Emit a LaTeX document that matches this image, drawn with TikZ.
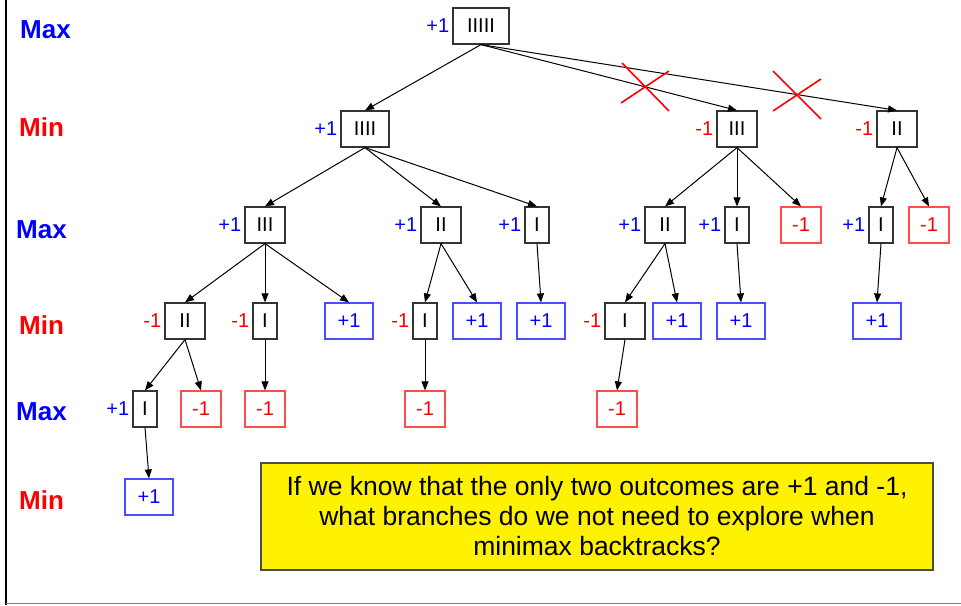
\documentclass[tikz,border=0pt]{standalone}
\usepackage{fontspec}
\setmainfont{Liberation Sans}
\usetikzlibrary{arrows.meta}
\begin{document}
\begin{tikzpicture}[x=1pt,y=-1pt,
   tbox/.style={draw=black!80,line width=1.2pt,minimum height=36pt,inner sep=0pt,font=\fontsize{20}{20}\selectfont},
   pbox/.style={tbox,draw=blue!70,text=blue,minimum width=48pt},
   mbox/.style={tbox,draw=red!70,text=red,minimum width=40pt},
   pval/.style={text=blue,inner sep=3pt,font=\fontsize{20}{20}\selectfont},
   mval/.style={text=red,inner sep=3pt,font=\fontsize{20}{20}\selectfont},
   maxlbl/.style={anchor=west,inner sep=0pt,text=blue,font=\bfseries\fontsize{26}{26}\selectfont},
   minlbl/.style={anchor=west,inner sep=0pt,text=red,font=\bfseries\fontsize{26}{26}\selectfont},
   edge/.style={line width=1pt,-{Triangle[length=9pt,width=7pt]}},
   cut/.style={red,line width=1.6pt}]
   \useasboundingbox (0,0) rectangle (961,605);
   \draw[line width=2pt] (6,0) -- (6,605);
   \draw[gray,line width=1pt] (6,603) -- (961,603);

   \node (lev0) at (20,30)  [maxlbl] {Max};
   \node (lev1) at (19,127) [minlbl] {Min};
   \node (lev2) at (16,230) [maxlbl] {Max};
   \node (lev3) at (19,325) [minlbl] {Min};
   \node (lev4) at (16,412) [maxlbl] {Max};
   \node (lev5) at (19,500) [minlbl] {Min};

   \node (root) at (481,26) [tbox,minimum width=56pt,label={[pval]left:+1}] {IIIII};

   \node (n1) at (365,129) [tbox,minimum width=48pt,label={[pval]left:+1}] {IIII};
   \node (n2) at (737,129) [tbox,minimum width=40pt,label={[mval]left:-1}] {III};
   \node (n3) at (897,129) [tbox,minimum width=40pt,label={[mval]left:-1}] {II};

   \node (n11) at (265,225) [tbox,minimum width=40pt,label={[pval]left:+1}] {III};
   \node (n12) at (441,225) [tbox,minimum width=40pt,label={[pval]left:+1}] {II};
   \node (n13) at (537,225) [tbox,minimum width=24pt,label={[pval]left:+1}] {I};
   \node (n21) at (665,225) [tbox,minimum width=40pt,label={[pval]left:+1}] {II};
   \node (n22) at (737,225) [tbox,minimum width=24pt,label={[pval]left:+1}] {I};
   \node (n23) at (801,225) [mbox] {-1};
   \node (n31) at (881,225) [tbox,minimum width=24pt,label={[pval]left:+1}] {I};
   \node (n32) at (929,225) [mbox] {-1};

   \node (n111) at (185,321) [tbox,minimum width=40pt,label={[mval]left:-1}] {II};
   \node (n112) at (265,321) [tbox,minimum width=24pt,label={[mval]left:-1}] {I};
   \node (n113) at (349,321) [pbox] {+1};
   \node (n121) at (425,321) [tbox,minimum width=24pt,label={[mval]left:-1}] {I};
   \node (n122) at (477,321) [pbox] {+1};
   \node (n131) at (541,321) [pbox] {+1};
   \node (n211) at (625,321) [tbox,minimum width=40pt,label={[mval]left:-1}] {I};
   \node (n212) at (677,321) [pbox] {+1};
   \node (n221) at (741,321) [pbox] {+1};
   \node (n311) at (877,321) [pbox] {+1};

   \node (n1111) at (145,409) [tbox,minimum width=24pt,label={[pval]left:+1}] {I};
   \node (n1112) at (201,409) [mbox] {-1};
   \node (n1121) at (265,409) [mbox] {-1};
   \node (n1211) at (425,409) [mbox] {-1};
   \node (n2111) at (617,409) [mbox] {-1};

   \node (n11111) at (149,497) [pbox] {+1};

   \draw[edge] (root.south) -- (n1.north);
   \draw[edge] (root.south) -- (n2.north);
   \draw[edge] (root.south) -- (n3.north);
   \draw[edge] (n1.south) -- (n11.north);
   \draw[edge] (n1.south) -- (n12.north);
   \draw[edge] (n1.south) -- (n13.north);
   \draw[edge] (n2.south) -- (n21.north);
   \draw[edge] (n2.south) -- (n22.north);
   \draw[edge] (n2.south) -- (n23.north);
   \draw[edge] (n3.south) -- (n31.north);
   \draw[edge] (n3.south) -- (n32.north);
   \draw[edge] (n11.south) -- (n111.north);
   \draw[edge] (n11.south) -- (n112.north);
   \draw[edge] (n11.south) -- (n113.north);
   \draw[edge] (n12.south) -- (n121.north);
   \draw[edge] (n12.south) -- (n122.north);
   \draw[edge] (n13.south) -- (n131.north);
   \draw[edge] (n21.south) -- (n211.north);
   \draw[edge] (n21.south) -- (n212.north);
   \draw[edge] (n22.south) -- (n221.north);
   \draw[edge] (n31.south) -- (n311.north);
   \draw[edge] (n111.south) -- (n1111.north);
   \draw[edge] (n111.south) -- (n1112.north);
   \draw[edge] (n112.south) -- (n1121.north);
   \draw[edge] (n121.south) -- (n1211.north);
   \draw[edge] (n211.south) -- (n2111.north);
   \draw[edge] (n1111.south) -- (n11111.north);

   \draw[cut] (622,63) -- (669,111) (621,103) -- (669,71);
   \draw[cut] (773,71) -- (821,119) (773,111) -- (821,79);

   \node (question) at (597,516.5) [draw=black!70,line width=1.2pt,fill=yellow,minimum width=672pt,minimum height=107pt,align=center,inner sep=0pt,font=\fontsize{26.5}{30}\selectfont]
      {If we know that the only two outcomes are +1 and -1,\\what branches do we not need to explore when\\minimax backtracks?};
\end{tikzpicture}
\end{document}
